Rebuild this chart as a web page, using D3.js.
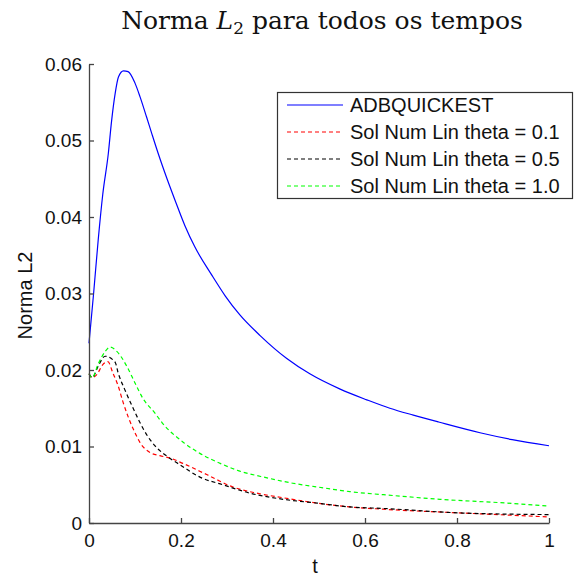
<!DOCTYPE html>
<html>
<head>
<meta charset="utf-8">
<script src="https://cdn.jsdelivr.net/npm/d3@7"></script>
<style>
  body { margin: 0; background: #fff; }
  svg { display: block; }
</style>
</head>
<body>
<div id="chart"></div>
<script>
var w = 574;
var h = 578;
var margin = { top: 64, right: 25, bottom: 55, left: 89 };
var width = w - margin.left - margin.right;   // 460
var height = h - margin.top - margin.bottom;  // 459

// ADBQUICKEST (solid blue)
var tBlue = [0, 0.01, 0.02, 0.03, 0.042, 0.049, 0.057, 0.064, 0.075, 0.085, 0.1, 0.111, 0.125, 0.136, 0.151, 0.169, 0.187, 0.209, 0.23, 0.267, 0.296, 0.328, 0.372, 0.43, 0.48, 0.546, 0.604, 0.654, 0.705, 0.76, 0.85, 0.92, 1.0];
var vBlue = [0.0235, 0.030, 0.037, 0.043, 0.0483, 0.0525, 0.0562, 0.0583, 0.0591, 0.0590, 0.0575, 0.0557, 0.0531, 0.0510, 0.0482, 0.0451, 0.0422, 0.0388, 0.0361, 0.0324, 0.0297, 0.0272, 0.0245, 0.0215, 0.0195, 0.0175, 0.0161, 0.0150, 0.0141, 0.0132, 0.0118, 0.0109, 0.0101];

// Sol Num Lin theta = 0.1 (red dashed)
var tRed = [0, 0.007, 0.017, 0.03, 0.041, 0.052, 0.063, 0.074, 0.085, 0.1, 0.111, 0.133, 0.154, 0.176, 0.204, 0.257, 0.313, 0.365, 0.422, 0.496, 0.567, 0.64, 0.813, 1.0];
var vRed = [0.0195, 0.0190, 0.0194, 0.0207, 0.0211, 0.0196, 0.0180, 0.0158, 0.0139, 0.0118, 0.0105, 0.0092, 0.0088, 0.0085, 0.0078, 0.0063, 0.0047, 0.0039, 0.0033, 0.0026, 0.0021, 0.0018, 0.0013, 0.0008];

// Sol Num Lin theta = 0.5 (black dashed)
var tBlack = [0, 0.007, 0.02, 0.035, 0.057, 0.063, 0.078, 0.096, 0.111, 0.128, 0.148, 0.17, 0.198, 0.241, 0.291, 0.35, 0.422, 0.496, 0.567, 0.64, 0.813, 1.0];
var vBlack = [0.0195, 0.0190, 0.0205, 0.0218, 0.0210, 0.0197, 0.0174, 0.0150, 0.0131, 0.0113, 0.0098, 0.0087, 0.0076, 0.0060, 0.0050, 0.0039, 0.0031, 0.0026, 0.0021, 0.0019, 0.0013, 0.0011];

// Sol Num Lin theta = 1.0 (green dashed)
var tGreen = [0, 0.007, 0.02, 0.035, 0.046, 0.061, 0.083, 0.1, 0.117, 0.143, 0.159, 0.204, 0.241, 0.285, 0.322, 0.387, 0.443, 0.509, 0.567, 0.64, 0.763, 0.909, 1.0];
var vGreen = [0.0195, 0.0190, 0.0208, 0.0224, 0.0230, 0.0224, 0.0204, 0.0183, 0.0163, 0.0144, 0.0131, 0.0106, 0.0091, 0.0078, 0.0069, 0.0059, 0.0052, 0.0046, 0.0041, 0.0037, 0.0031, 0.0026, 0.0022];

var seriesNames = ["ADBQUICKEST", "Sol Num Lin theta = 0.1", "Sol Num Lin theta = 0.5", "Sol Num Lin theta = 1.0"];
var xTicks = [0, 0.2, 0.4, 0.6, 0.8, 1];
var yTicks = [0, 0.01, 0.02, 0.03, 0.04, 0.05, 0.06];

var series = [
    { name: seriesNames[0], t: tBlue, v: vBlue, color: "#0000ff", dash: null },
    { name: seriesNames[1], t: tRed, v: vRed, color: "#ff0000", dash: "4,3" },
    { name: seriesNames[2], t: tBlack, v: vBlack, color: "#000000", dash: "4,3" },
    { name: seriesNames[3], t: tGreen, v: vGreen, color: "#00ff00", dash: "4,3" }
];

var xScale = d3.scaleLinear().domain([0, 1]).range([0, width]);
var yScale = d3.scaleLinear().domain([0, 0.06]).range([height, 0]);

var svg = d3.select("#chart")
    .append("svg")
    .attr("width", w)
    .attr("height", h);

var g = svg.append("g")
    .attr("transform", "translate(" + margin.left + "," + margin.top + ")");

// Lines
var line = d3.line()
    .x(function(d) { return xScale(d[0]); })
    .y(function(d) { return yScale(d[1]); })
    .curve(d3.curveMonotoneX);

series.forEach(function(s) {
    g.append("path")
        .datum(d3.zip(s.t, s.v))
        .attr("d", line)
        .style("fill", "none")
        .style("stroke", s.color)
        .style("stroke-width", 1.2)
        .style("stroke-dasharray", s.dash);
});

// Axes (MATLAB style, ticks pointing inward, box off)
var xAxis = g.append("g")
    .attr("transform", "translate(0," + height + ")")
    .call(d3.axisBottom(xScale)
        .tickValues(xTicks)
        .tickFormat(d3.format("~g"))
        .tickSizeInner(-5)
        .tickSizeOuter(0)
        .tickPadding(11));

var yAxis = g.append("g")
    .call(d3.axisLeft(yScale)
        .tickValues(yTicks)
        .tickFormat(function(d) { return d === 0 ? "0" : d3.format(".2f")(d); })
        .tickSizeInner(-5)
        .tickSizeOuter(0)
        .tickPadding(7));

[xAxis, yAxis].forEach(function(a) {
    a.select(".domain").attr("stroke", "#444").attr("stroke-width", 1.3);
    a.selectAll(".tick line").attr("stroke", "#444").attr("stroke-width", 1.3);
    a.selectAll(".tick text")
        .attr("fill", "#111")
        .style("font-family", "'Liberation Sans', Arial, sans-serif")
        .style("font-size", "19px");
});

// Axis labels
svg.append("text")
    .attr("x", margin.left + width / 2 - 4)
    .attr("y", 573)
    .attr("text-anchor", "middle")
    .style("font-family", "'Liberation Sans', Arial, sans-serif")
    .style("font-size", "20px")
    .attr("fill", "#111")
    .text("t");

svg.append("text")
    .attr("transform", "translate(32," + (margin.top + height / 2 + 2) + ") rotate(-90)")
    .attr("text-anchor", "middle")
    .style("font-family", "'Liberation Sans', Arial, sans-serif")
    .style("font-size", "20px")
    .attr("fill", "#111")
    .text("Norma L2");

// Title
var title = svg.append("text")
    .attr("x", 322)
    .attr("y", 29)
    .attr("text-anchor", "middle")
    .style("font-family", "'DejaVu Serif', 'Liberation Serif', serif")
    .style("font-size", "25px")
    .attr("fill", "#111");
title.append("tspan").text("Norma ");
title.append("tspan").style("font-style", "italic").text("L");
title.append("tspan").attr("dy", 5).style("font-size", "17px").text("2");
title.append("tspan").attr("dy", -5).text(" para todos os tempos");

// Legend
var legend = svg.append("g");
legend.append("rect")
    .attr("x", 277.5)
    .attr("y", 92.5)
    .attr("width", 295)
    .attr("height", 106)
    .attr("fill", "#fff")
    .attr("stroke", "#333")
    .attr("stroke-width", 1.2);

series.forEach(function(s, i) {
    var y = 105 + i * 27;
    legend.append("line")
        .attr("x1", 287).attr("x2", 343)
        .attr("y1", y).attr("y2", y)
        .style("stroke", s.color)
        .style("stroke-width", 1.2)
        .style("stroke-dasharray", s.dash);
    legend.append("text")
        .attr("x", 350)
        .attr("y", y)
        .attr("dy", "0.36em")
        .style("font-family", "'Liberation Sans', Arial, sans-serif")
        .style("font-size", "20px")
        .attr("fill", "#111")
        .text(s.name);
});
</script>
</body>
</html>
